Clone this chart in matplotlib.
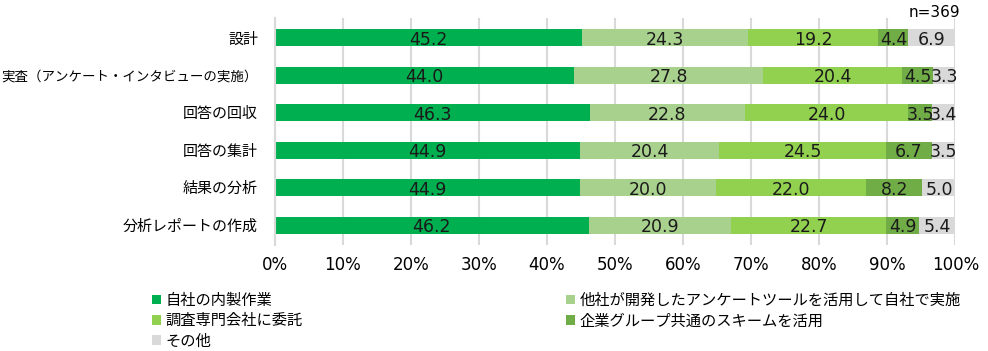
import numpy as np
import matplotlib
matplotlib.use('Agg')
import matplotlib.pyplot as plt

plt.rcParams['font.family'] = ['Noto Sans CJK JP', 'DejaVu Sans']

# rows (top to bottom)
categories = ['設計', '実査（アンケート・インタビューの実施）', '回答の回収',
              '回答の集計', '結果の分析', '分析レポートの作成']
series_names = ['自社の内製作業', '他社が開発したアンケートツールを活用して自社で実施',
                '調査専門会社に委託', '企業グループ共通のスキームを活用', 'その他']
inhouse = [45.2, 44.0, 46.3, 44.9, 44.9, 46.2]
tool = [24.3, 27.8, 22.8, 20.4, 20.0, 20.9]
agency = [19.2, 20.4, 24.0, 24.5, 22.0, 22.7]
group = [4.4, 4.5, 3.5, 6.7, 8.2, 4.9]
other = [6.9, 3.3, 3.4, 3.5, 5.0, 5.4]
colors = ['#00B050', '#A9D18E', '#92D050', '#70AD47', '#D9D9D9']

fig = plt.figure(figsize=(9.88, 3.51), dpi=100)
ax = fig.add_axes([0.278, 0.302, 0.689, 0.647])

y = np.arange(len(categories))
left = np.zeros(len(categories))
handles = []
for vals, col, name in zip([inhouse, tool, agency, group, other], colors, series_names):
    vals = np.array(vals)
    h = ax.barh(y, vals, left=left, height=0.45, color=col, label=name, zorder=2)
    handles.append(h)
    for yi, l, v in zip(y, left, vals):
        ax.text(l + v / 2, yi + 0.06, f'{v:.1f}', ha='center', va='center',
                fontsize=12.5, family='DejaVu Sans', color='#1a1a1a', zorder=3)
    left = left + vals

ax.set_xlim(0, 100)
ax.set_ylim(5.53, -0.53)
ax.set_xticks(np.arange(0, 101, 10))
ax.set_xticklabels([f'{t}%' for t in range(0, 101, 10)], fontsize=12, family='DejaVu Sans')
ax.set_yticks(y)
ax.set_yticklabels(categories, fontsize=10.8)
ax.get_yticklabels()[1].set_fontsize(9.7)
ax.tick_params(axis='y', length=0, pad=12)
ax.tick_params(axis='x', length=0, pad=8)
ax.grid(axis='x', color='#D9D9D9', linewidth=1.5, zorder=0)
for s in ['top', 'right', 'bottom']:
    ax.spines[s].set_visible(False)
ax.spines['left'].set_color('#D9D9D9')
ax.spines['left'].set_linewidth(1.5)

fig.text(0.972, 0.965, 'n=369', ha='right', va='center', fontsize=11, family='DejaVu Sans')

# legend filled row by row like the original
order = [0, 2, 4, 1, 3]
fig.legend(handles=[handles[i] for i in order], labels=[series_names[i] for i in order],
           loc='upper left', bbox_to_anchor=(0.146, 0.19), ncol=2, frameon=False,
           fontsize=11, handlelength=0.6, handleheight=0.6,
           handletextpad=0.3, columnspacing=17.2, labelspacing=0.22, borderpad=0)

fig.savefig('out.png', dpi=100)
